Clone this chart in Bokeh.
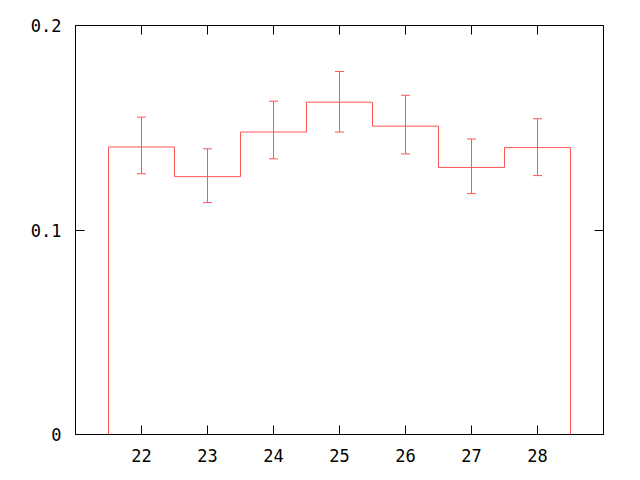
import numpy as np
from bokeh.plotting import figure
from bokeh.models import Range1d, FixedTicker, LinearAxis, Whisker, TeeHead, ColumnDataSource
from bokeh.embed import file_html
from bokeh.resources import INLINE

# data
bin_centers = [22, 23, 24, 25, 26, 27, 28]
values = [0.1406, 0.1261, 0.1479, 0.1625, 0.1508, 0.1306, 0.1403]
err_upper = [0.1552, 0.1397, 0.1630, 0.1775, 0.1659, 0.1445, 0.1544]
err_lower = [0.1275, 0.1134, 0.1348, 0.1479, 0.1372, 0.1178, 0.1266]
x_ticks = [22, 23, 24, 25, 26, 27, 28]
y_ticks = [0, 0.1, 0.2]
y_tick_labels = ["0", "0.1", "0.2"]

RED = "#ff5555"
FONT = "DejaVu Sans Mono"
FS = "17px"

p = figure(width=624, height=464, output_backend="svg", toolbar_location=None,
           x_range=Range1d(21, 29), y_range=Range1d(0, 0.2),
           min_border_left=75, min_border_right=21, min_border_top=25, min_border_bottom=27,
           x_axis_location=None, y_axis_location=None)
p.grid.visible = False
p.outline_line_color = "black"
p.outline_line_width = 1
p.background_fill_color = "white"
p.border_fill_color = "white"

def style(ax, labels=True):
    ax.major_tick_in = 9
    ax.major_tick_out = 0
    ax.minor_tick_line_color = None
    ax.axis_line_color = None
    ax.major_tick_line_color = "black"
    ax.major_label_text_font = FONT
    ax.major_label_text_font_size = FS
    ax.major_label_text_color = "black"
    if not labels:
        ax.major_label_text_font_size = "0px"
        ax.major_label_text_color = None

bx = LinearAxis(ticker=FixedTicker(ticks=x_ticks))
style(bx)
bx.major_label_standoff = 14
p.add_layout(bx, "below")

tx = LinearAxis(ticker=FixedTicker(ticks=x_ticks))
style(tx, labels=False)
p.add_layout(tx, "above")

ly = LinearAxis(ticker=FixedTicker(ticks=y_ticks))
style(ly)
ly.major_label_standoff = 14
ly.major_label_overrides = {t: l for t, l in zip(y_ticks, y_tick_labels)}
p.add_layout(ly, "left")

ry = LinearAxis(ticker=FixedTicker(ticks=y_ticks))
style(ry, labels=False)
p.add_layout(ry, "right")

# step histogram outline
c = np.array(bin_centers, dtype=float)
v = np.array(values)
edges_l = c - 0.5
edges_r = c + 0.5
xs = np.concatenate([[edges_l[0]], np.column_stack([edges_l, edges_r]).ravel(), [edges_r[-1]]])
ys = np.concatenate([[0.0], np.repeat(v, 2), [0.0]])
p.line(xs, ys, line_color=RED, line_width=1)

src = ColumnDataSource(dict(x=bin_centers, upper=err_upper, lower=err_lower))
w = Whisker(source=src, base="x", upper="upper", lower="lower", dimension="height",
            line_color=RED, line_width=1,
            upper_head=TeeHead(size=9, line_color=RED, line_width=1),
            lower_head=TeeHead(size=9, line_color=RED, line_width=1))
p.add_layout(w)

open("out.html", "w").write(file_html(p, INLINE))
